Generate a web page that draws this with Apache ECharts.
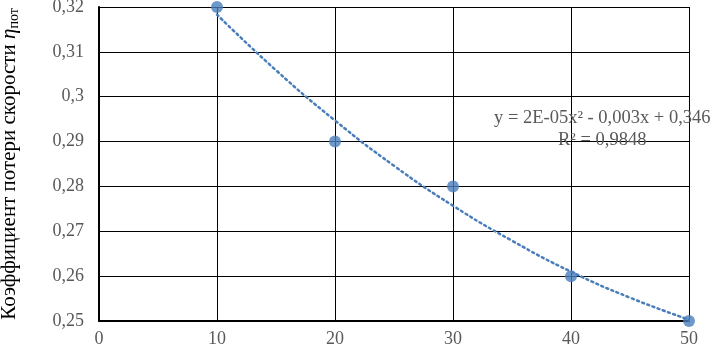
<!DOCTYPE html>
<html><head><meta charset="utf-8">
<script src="https://cdn.jsdelivr.net/npm/echarts@6/dist/echarts.min.js"></script>
<style>html,body{margin:0;padding:0;background:#fff}#c{width:714px;height:351px}</style>
</head><body><div id="c"></div>
<script>
const xValues = [10, 20, 30, 40, 50];
const yValues = [0.32, 0.29, 0.28, 0.26, 0.25];
// dotted polynomial trendline
const trendX = [10, 15, 20, 25, 30, 35, 40, 45, 50];
const trendY = [0.3183, 0.3059, 0.2947, 0.2846, 0.2757, 0.2679, 0.2610, 0.2552, 0.2503];
const yTitle = 'Коэффициент потери скорости ';
const eqLine1 = 'y = 2E-05x² - 0,003x + 0,346';
const eqLine2 = 'R² = 0,9848';

const chart = echarts.init(document.getElementById('c'));
const fmt = v => String(+(+v).toFixed(2)).replace('.', ',');
const blue = '#4a7ebb';
chart.setOption({
  animation: false,
  grid: {left: 99, right: 25, top: 7, bottom: 30, containLabel: false, outerBoundsMode: 'none'},
  xAxis: {
    type: 'value', min: 0, max: 50, interval: 10,
    axisLine: {show: true, onZero: false, lineStyle: {color: '#000', width: 2}},
    axisTick: {show: false},
    splitLine: {show: true, lineStyle: {color: '#000', width: 1}},
    axisLabel: {color: '#595959', fontFamily: 'Liberation Serif', fontSize: 18, margin: 9}
  },
  yAxis: {
    type: 'value', min: 0.25, max: 0.32, interval: 0.01,
    axisLine: {show: true, lineStyle: {color: '#000', width: 2}},
    axisTick: {show: false},
    splitLine: {show: true, lineStyle: {color: '#000', width: 1}},
    axisLabel: {color: '#595959', fontFamily: 'Liberation Serif', fontSize: 18, margin: 15, formatter: fmt},
    name: '{a|' + yTitle + '}{b|η}{c|пот}',
    nameLocation: 'middle', nameRotate: 90, nameGap: 78,
    nameTextStyle: {
      rich: {
        a: {fontFamily: 'Liberation Serif', fontSize: 21, color: '#000'},
        b: {fontFamily: 'Liberation Serif', fontSize: 21, fontStyle: 'italic', color: '#000'},
        c: {fontFamily: 'Liberation Serif', fontSize: 14, color: '#000', verticalAlign: 'bottom', padding: [9, 0, 0, 0]}
      }
    }
  },
  series: [
    {
      type: 'line', data: trendX.map((x, i) => [x, trendY[i]]),
      smooth: true, symbol: 'none', z: 3,
      lineStyle: {color: blue, width: 2.5, type: [2, 3.5], cap: 'round'}
    },
    {
      type: 'scatter', data: xValues.map((x, i) => [x, yValues[i]]),
      symbolSize: 12, z: 4,
      itemStyle: {color: blue}
    }
  ],
  graphic: [
    {type: 'text', left: 494, top: 109, z: 10, style: {text: eqLine1, font: '18.5px "Liberation Serif"', fill: '#595959'}},
    {type: 'text', left: 558, top: 131, z: 10, style: {text: eqLine2, font: '18.5px "Liberation Serif"', fill: '#595959'}}
  ]
});
</script></body></html>
